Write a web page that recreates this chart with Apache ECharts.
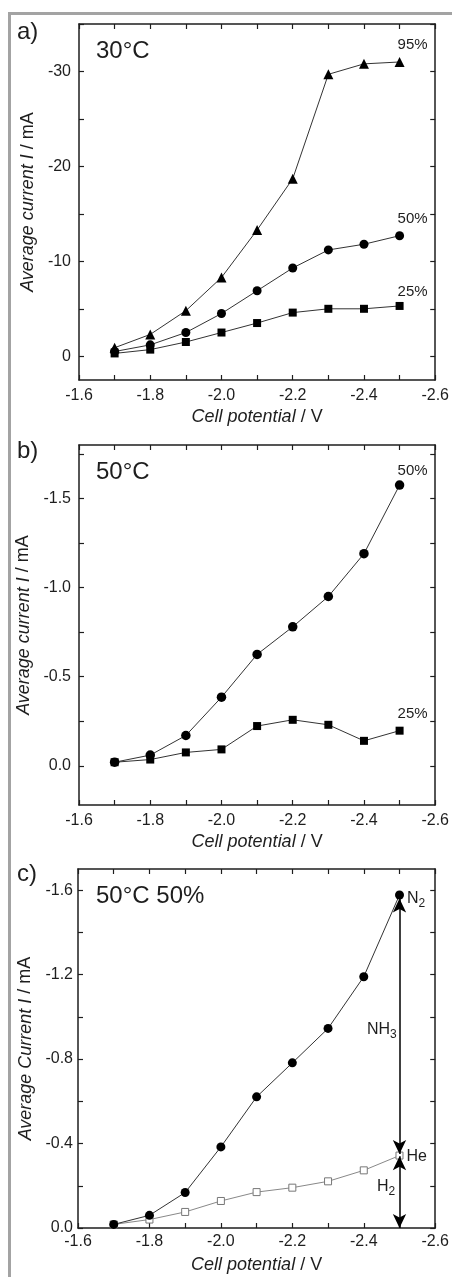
<!DOCTYPE html>
<html>
<head>
<meta charset="utf-8">
<script src="https://cdn.jsdelivr.net/npm/echarts@6/dist/echarts.min.js"></script>
<style>
html,body{margin:0;padding:0;background:#fff;}
#chart{width:452px;height:1277px;}
</style>
</head>
<body>
<div id="chart"></div>
<script>
// ---- data ----
const potentials = [-1.7, -1.8, -1.9, -2.0, -2.1, -2.2, -2.3, -2.4, -2.5];
const a95 = [-0.9, -2.3, -4.8, -8.3, -13.3, -18.7, -29.7, -30.8, -31.0];
const a50 = [-0.5, -1.2, -2.5, -4.5, -6.9, -9.3, -11.2, -11.8, -12.7];
const a25 = [-0.3, -0.7, -1.5, -2.5, -3.5, -4.6, -5.0, -5.0, -5.3];
const b50 = [-0.02, -0.06, -0.17, -0.385, -0.625, -0.78, -0.95, -1.19, -1.575];
const b25 = [-0.02, -0.035, -0.075, -0.092, -0.223, -0.258, -0.23, -0.14, -0.197];
const cN2 = [-0.017, -0.06, -0.168, -0.384, -0.621, -0.782, -0.945, -1.19, -1.577];
const cHe = [-0.017, -0.04, -0.076, -0.128, -0.17, -0.191, -0.221, -0.273, -0.343];
// arrows in panel c (potential, from, to)
const arrowNH3 = [-2.5, -1.56, -0.35];
const arrowH2 = [-2.5, -0.34, 0.0];

// ---- ticks ----
const xLabelVals = [-1.6, -1.8, -2.0, -2.2, -2.4, -2.6];
const xTickVals = [-1.6, -1.7, -1.8, -1.9, -2.0, -2.1, -2.2, -2.3, -2.4, -2.5, -2.6];
const aYLabelVals = [-30, -20, -10, 0];
const aYTickVals = [-35, -30, -25, -20, -15, -10, -5, 0];
const bYLabelVals = [-1.5, -1.0, -0.5, 0.0];
const bYTickVals = [-1.75, -1.5, -1.25, -1.0, -0.75, -0.5, -0.25, 0.0];
const cYLabelVals = [-1.6, -1.2, -0.8, -0.4, 0.0];
const cYTickVals = [-1.6, -1.4, -1.2, -1.0, -0.8, -0.6, -0.4, -0.2, 0.0];

const FONT = '"Liberation Sans", Arial, sans-serif';
const INK = '#1e1e1e';

const grids = [
  {left: 79, top: 24, width: 361, height: 356},
  {left: 79, top: 445, width: 361, height: 360},
  {left: 78, top: 869, width: 361, height: 359}
];

function pairs(ys) { return potentials.map((x, i) => [x, ys[i]]); }

function xAxes(gi) {
  const base = {
    gridIndex: gi, type: 'value', min: -2.6, max: -1.6, inverse: true,
    splitLine: {show: false},
    axisLine: {show: true, onZero: false, lineStyle: {color: INK, width: 1.5}},
    axisTick: {show: true, inside: true, length: 5, customValues: xTickVals, lineStyle: {color: INK, width: 1.2}}
  };
  return [
    Object.assign({}, base, {
      position: 'bottom',
      axisLabel: {show: true, customValues: xLabelVals, margin: gi === 2 ? 6 : 8,
        formatter: v => v.toFixed(1), fontSize: 16, color: INK, fontFamily: FONT},
      name: '{i|Cell potential} / V', nameLocation: 'middle', nameGap: 28,
      nameTextStyle: {fontSize: 18, color: INK, fontFamily: FONT,
        rich: {i: {fontSize: 18, fontStyle: 'italic', color: INK, fontFamily: FONT}}}
    }),
    Object.assign({}, base, {position: 'top', axisLabel: {show: false}})
  ];
}

function yAxes(gi, min, max, labels, ticks, fmt, name) {
  const base = {
    gridIndex: gi, type: 'value', min: min, max: max, inverse: true,
    splitLine: {show: false},
    axisLine: {show: true, onZero: false, lineStyle: {color: INK, width: 1.5}},
    axisTick: {show: true, inside: true, length: 5, customValues: ticks, lineStyle: {color: INK, width: 1.2}}
  };
  return [
    Object.assign({}, base, {
      position: 'left',
      axisLabel: {show: true, customValues: labels, margin: gi === 2 ? 5 : 8,
        formatter: fmt, fontSize: 16, color: INK, fontFamily: FONT},
      name: name, nameLocation: 'middle', nameGap: 42, nameRotate: 90,
      nameTextStyle: {fontSize: 18, color: INK, fontFamily: FONT,
        rich: {i: {fontSize: 18, fontStyle: 'italic', color: INK, fontFamily: FONT}}}
    }),
    Object.assign({}, base, {position: 'right', axisLabel: {show: false}})
  ];
}

function lineSeries(xi, yi, ys, symbol, size, labelText, labelOpts, opts) {
  const data = pairs(ys).map((p, i) => {
    if (i === ys.length - 1 && labelText) {
      return {value: p, label: Object.assign({show: true, formatter: labelText, fontSize: 15,
        color: INK, fontFamily: FONT}, labelOpts)};
    }
    return {value: p};
  });
  return Object.assign({
    type: 'line', xAxisIndex: xi, yAxisIndex: yi, data: data,
    symbol: symbol, symbolSize: size, showAllSymbol: true,
    lineStyle: {color: '#333', width: 1},
    itemStyle: {color: '#000', borderWidth: 0},
    label: {show: false}, animation: false, z: 3
  }, opts || {});
}

const subRich = {
  s: {fontSize: 12, color: INK, fontFamily: FONT, padding: [10, 0, 0, 0]}
};

const option = {
  animation: false,
  backgroundColor: '#fff',
  grid: grids,
  xAxis: [].concat(xAxes(0), xAxes(1), xAxes(2)),
  yAxis: [].concat(
    yAxes(0, -35, 2.5, aYLabelVals, aYTickVals, v => String(v), '{i|Average current I} / mA'),
    yAxes(1, -1.8, 0.22, bYLabelVals, bYTickVals, v => v.toFixed(1), '{i|Average current I} / mA'),
    yAxes(2, -1.7, 0, cYLabelVals, cYTickVals, v => v.toFixed(1), '{i|Average Current I} / mA')
  ),
  series: [
    lineSeries(0, 0, a25, 'rect', 8, '25%', {position: 'top', offset: [13, 2]}),
    lineSeries(0, 0, a50, 'circle', 9, '50%', {position: 'top', offset: [13, 0]}),
    lineSeries(0, 0, a95, 'triangle', 10, '95%', {position: 'top', offset: [13, 0]}),
    lineSeries(2, 2, b25, 'rect', 8, '25%', {position: 'top', offset: [13, 0]}),
    lineSeries(2, 2, b50, 'circle', 9.5, '50%', {position: 'top', offset: [13, 3]}),
    lineSeries(4, 4, cHe, 'rect', 7, 'He', {position: 'right', distance: 3, offset: [0, 1], fontSize: 16}, {
      lineStyle: {color: '#888', width: 1},
      itemStyle: {color: '#fff', borderColor: '#777', borderWidth: 1},
      markLine: {
        silent: true, symbol: ['arrow', 'arrow'], symbolSize: [10, 14],
        lineStyle: {color: '#000', width: 1.5, type: 'solid'},
        label: {show: false},
        data: [
          [{coord: [arrowNH3[0], arrowNH3[1]]}, {coord: [arrowNH3[0], arrowNH3[2]]}],
          [{coord: [arrowH2[0], arrowH2[1]]}, {coord: [arrowH2[0], arrowH2[2]]}]
        ]
      }
    }),
    lineSeries(4, 4, cN2, 'circle', 9, 'N{s|2}', {position: 'right', distance: 3, offset: [0, 4], fontSize: 16, rich: subRich}, {z: 4})
  ],
  graphic: [
    {type: 'rect', shape: {x: 8, y: 12, width: 460, height: 3}, style: {fill: '#a3a3a3'}, silent: true},
    {type: 'rect', shape: {x: 8, y: 12, width: 3, height: 1270}, style: {fill: '#a3a3a3'}, silent: true},
    {type: 'text', left: 17, top: 20, style: {text: 'a)', fontSize: 24, fill: INK, fontFamily: FONT}},
    {type: 'text', left: 17, top: 439, style: {text: 'b)', fontSize: 24, fill: INK, fontFamily: FONT}},
    {type: 'text', left: 17, top: 862, style: {text: 'c)', fontSize: 24, fill: INK, fontFamily: FONT}},
    {type: 'text', left: 96, top: 39, style: {text: '30°C', fontSize: 24, fill: INK, fontFamily: FONT}},
    {type: 'text', left: 96, top: 460, style: {text: '50°C', fontSize: 24, fill: INK, fontFamily: FONT}},
    {type: 'text', left: 96, top: 884, style: {text: '50°C 50%', fontSize: 24, fill: INK, fontFamily: FONT}},
    {type: 'text', left: 367, top: 1022, style: {text: 'NH{s|3}', fontSize: 16, fill: INK, fontFamily: FONT, rich: subRich}},
    {type: 'text', left: 377, top: 1179, style: {text: 'H{s|2}', fontSize: 16, fill: INK, fontFamily: FONT, rich: subRich}}
  ]
};

const chart = echarts.init(document.getElementById('chart'), null, {renderer: 'canvas'});
chart.setOption(option);
</script>
</body>
</html>
